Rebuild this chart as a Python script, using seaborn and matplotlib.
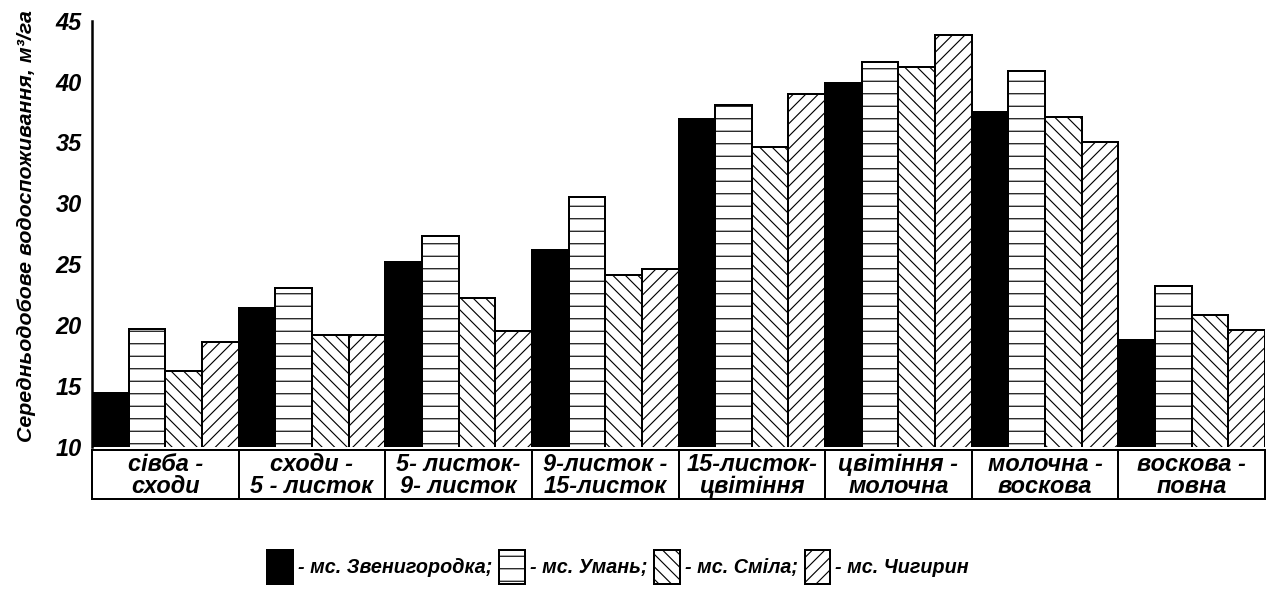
import numpy as np
import pandas as pd
import seaborn as sns
import matplotlib.pyplot as plt
import matplotlib.patches as mpatches

# stages of crop development (two-line labels as in the source figure)
stages = ['сівба -\nсходи', 'сходи -\n5 - листок', '5- листок-\n9- листок', '9-листок -\n15-листок',
          '15-листок-\nцвітіння', 'цвітіння -\nмолочна', 'молочна -\nвоскова', 'воскова -\nповна']
stations = ['мс. Звенигородка', 'мс. Умань', 'мс. Сміла', 'мс. Чигирин']

zvenyhorodka = [14.4, 21.4, 25.2, 26.2, 36.9, 39.9, 37.5, 18.8]
uman = [19.7, 23.0, 27.3, 30.5, 38.1, 41.6, 40.9, 23.2]
smila = [16.2, 19.2, 22.2, 24.1, 34.6, 41.2, 37.1, 20.8]
chyhyryn = [18.6, 19.2, 19.5, 24.6, 39.0, 43.8, 35.0, 19.6]

yticks = [10, 15, 20, 25, 30, 35, 40, 45]

DPI = 75
def px(v):
    return v * 72 / DPI

df = pd.DataFrame({
    'stage': stages * 4,
    'station': np.repeat(stations, len(stages)),
    'value': zvenyhorodka + uman + smila + chyhyryn,
})

sns.set_style('white')
plt.rcParams['font.family'] = ['Liberation Sans', 'DejaVu Sans']
plt.rcParams['font.weight'] = 'bold'
plt.rcParams['font.style'] = 'italic'
plt.rcParams['hatch.linewidth'] = 1.1
for k in ['text.color', 'axes.labelcolor', 'xtick.color', 'ytick.color', 'axes.edgecolor']:
    plt.rcParams[k] = 'black'

fig = plt.figure(figsize=(1273 / DPI, 589 / DPI), dpi=DPI)
ax = fig.add_axes([92 / 1273, 1 - 446.7 / 589, (1265 - 92) / 1273, (446.7 - 20.7) / 589])

sns.barplot(data=df, x='stage', y='value', hue='station', order=stages, hue_order=stations,
            palette=['black', 'white', 'white', 'white'], saturation=1, width=1.0, gap=0,
            edgecolor='black', linewidth=px(2), legend=False, ax=ax)

hatches = [None, '-', '\\\\', '//']
for cont, h in zip(ax.containers, hatches):
    for bar in cont:
        if h:
            bar.set_hatch(h)

ax.set_ylim(10, 45)
ax.set_xlim(-0.5, len(stages) - 0.5)
ax.set_yticks(yticks)
ax.set_xticks([])
ax.set_xlabel('')
ax.set_ylabel('')
for s in ['top', 'right', 'bottom']:
    ax.spines[s].set_visible(False)
ax.spines['left'].set_linewidth(px(2.5))
ax.tick_params(axis='y', length=px(8), width=px(2), pad=px(2), labelsize=22.5)

# table of stage labels under the bars
trans = ax.get_xaxis_transform()
h_ax = 446.7 - 20.7
y_top = -(450 - 446.7) / h_ax
y_bot = -(499 - 446.7) / h_ax
for i, name in enumerate(stages):
    ax.add_patch(mpatches.Rectangle((i - 0.5, y_bot), 1, y_top - y_bot, transform=trans,
                                    facecolor='none', edgecolor='black', lw=px(2), clip_on=False))
    ax.text(i, (y_top + y_bot) / 2 - 0.002, name, transform=trans, ha='center', va='center',
            fontsize=22.5, linespacing=0.97)

fig.text(27 / 1273, 1 - 226 / 589, 'Середньодобове водоспоживання, м³/га', rotation=90,
         ha='center', va='center', fontsize=20.5)

handles = [mpatches.Patch(facecolor=c, edgecolor='black', hatch=h, linewidth=px(2))
           for c, h in zip(['black', 'white', 'white', 'white'], hatches)]
labels = ['- мс. Звенигородка;', '- мс. Умань;', '- мс. Сміла;', '- мс. Чигирин']
fig.legend(handles, labels, loc='center', bbox_to_anchor=(618 / 1273, 1 - 567 / 589), ncol=4,
           frameon=False, fontsize=19, handlelength=1.3, handleheight=2.2,
           handletextpad=0.25, columnspacing=0.35)

fig.savefig('out.png', dpi=DPI)
